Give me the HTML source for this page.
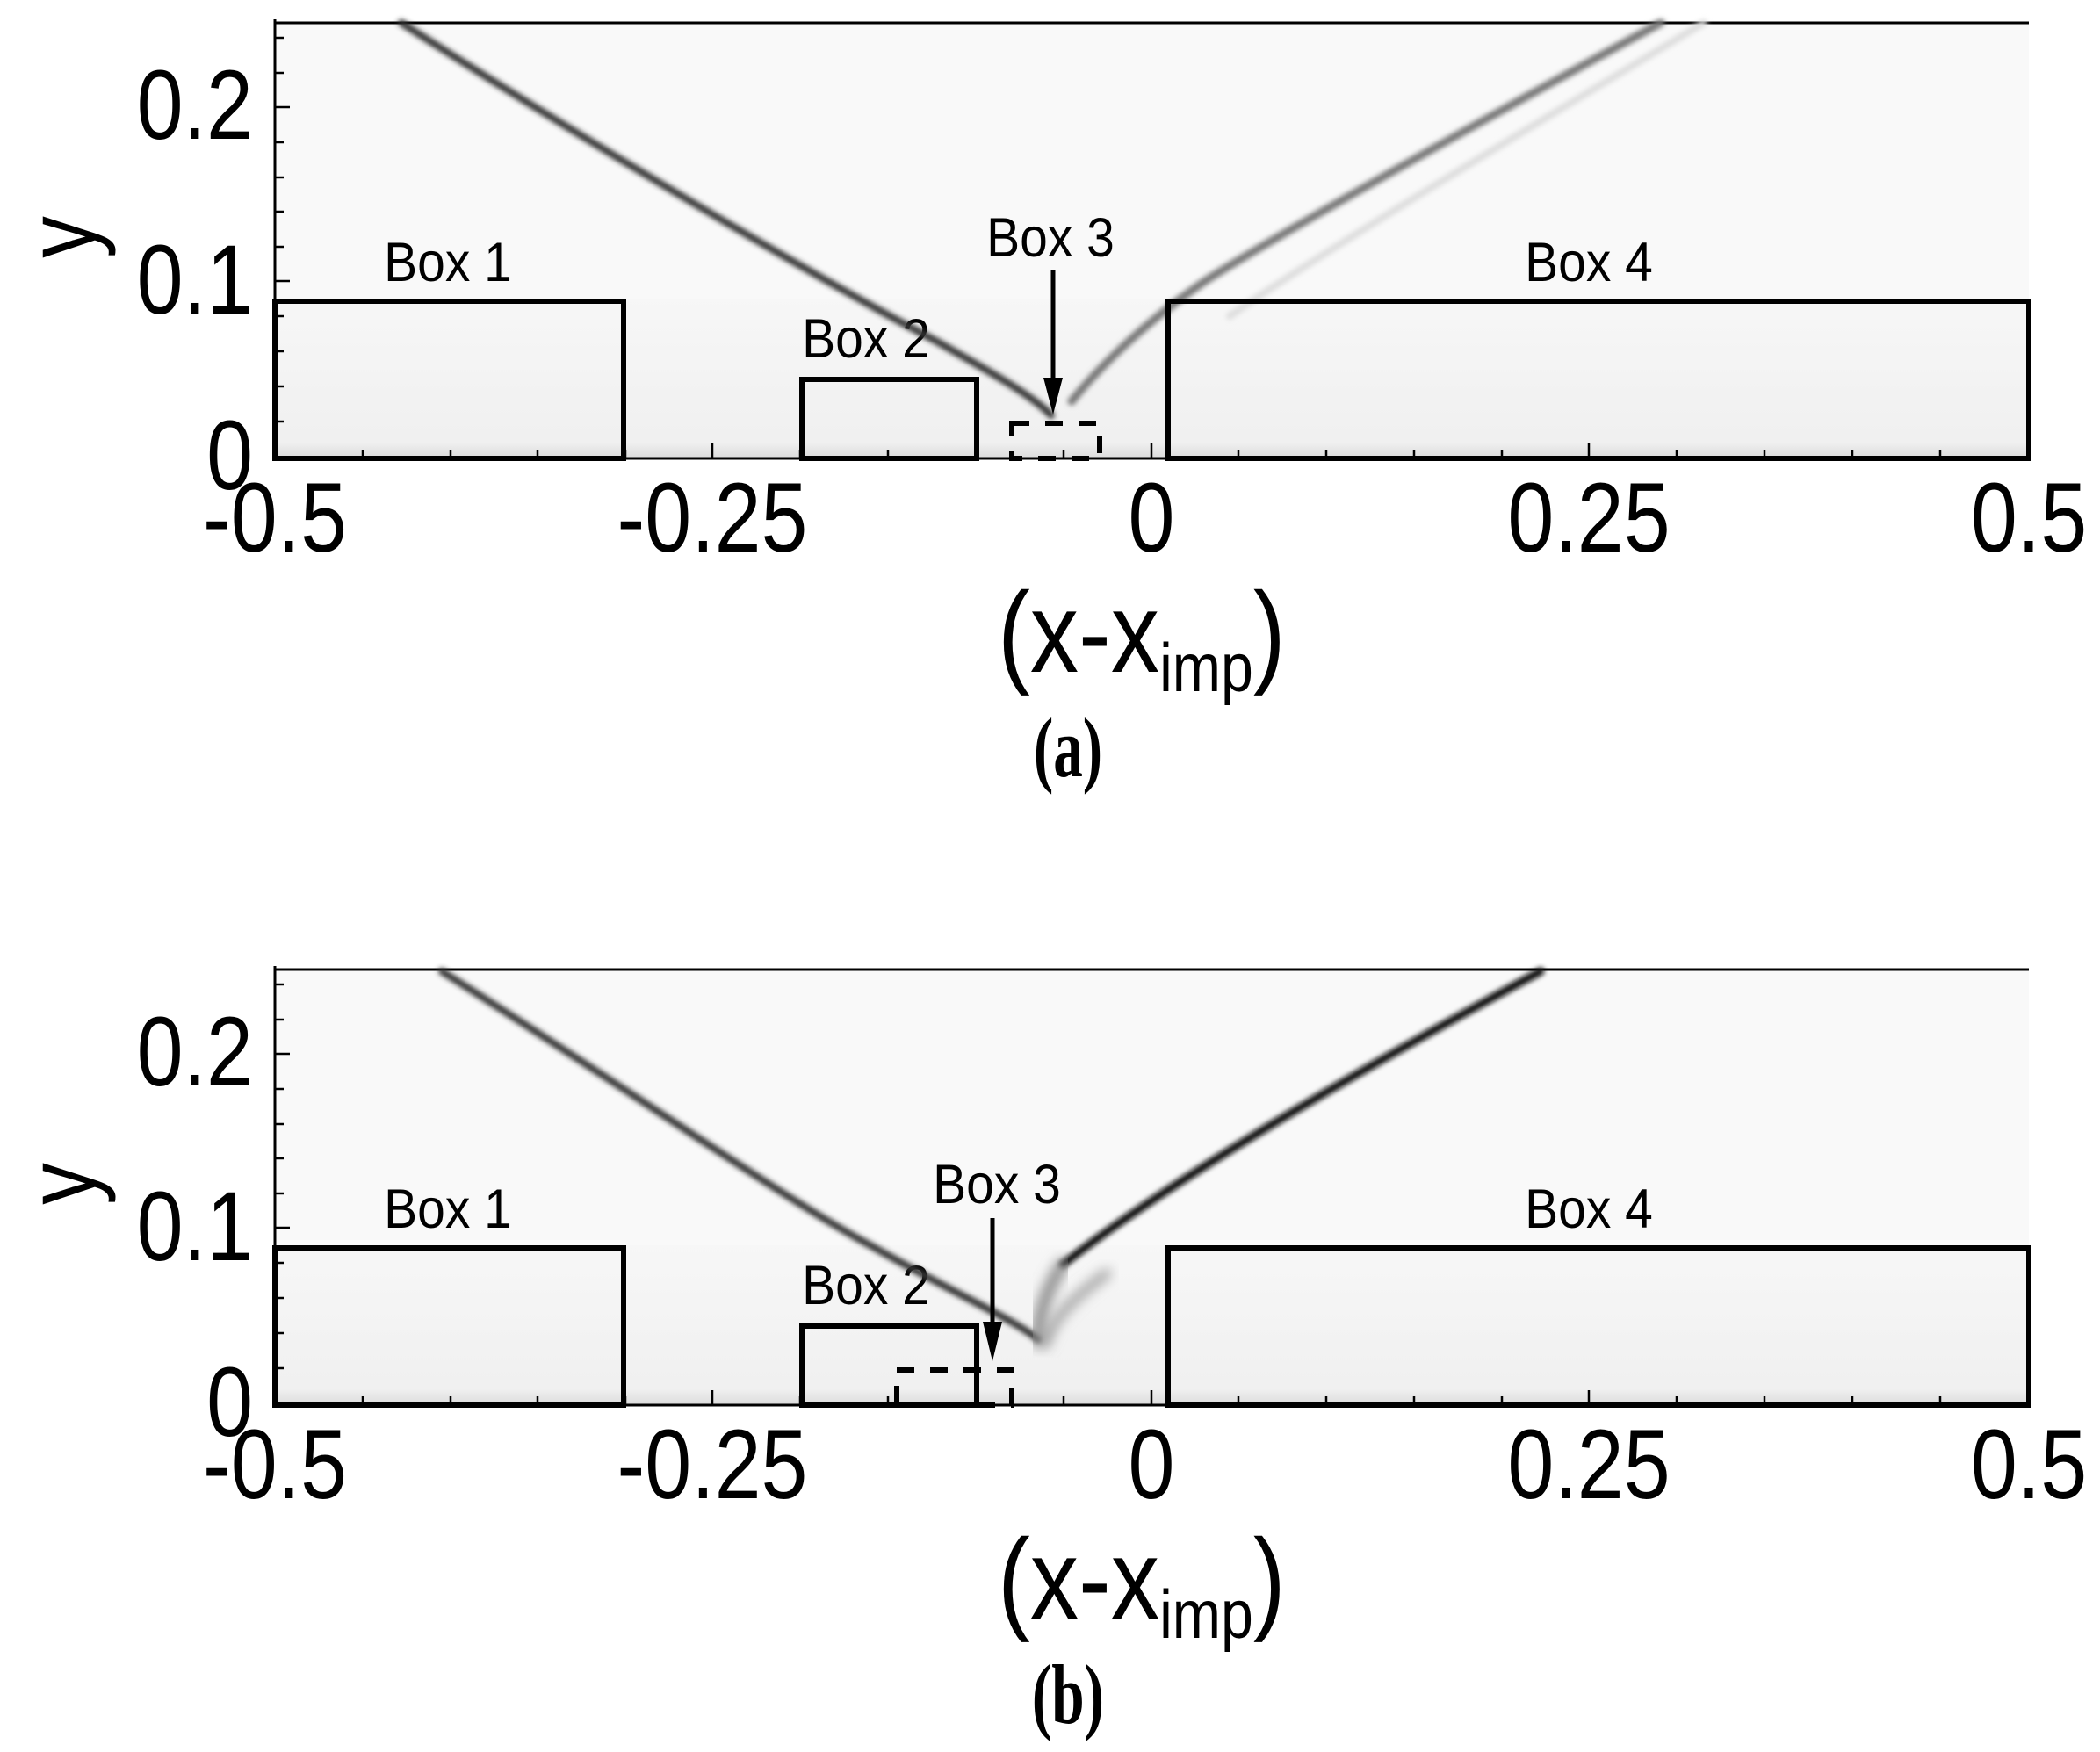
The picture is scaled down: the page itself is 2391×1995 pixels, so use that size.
<!DOCTYPE html>
<html><head><meta charset="utf-8"><style>
html,body{margin:0;padding:0;background:#fff;}
svg{display:block}
text{font-family:"Liberation Sans",sans-serif;fill:#000}
</style></head><body>
<svg width="2391" height="1995" viewBox="0 0 2391 1995" xmlns="http://www.w3.org/2000/svg">
<defs>
<filter id="b1" x="-20%" y="-20%" width="140%" height="140%"><feGaussianBlur stdDeviation="3"/></filter>
<filter id="b2" x="-20%" y="-20%" width="140%" height="140%"><feGaussianBlur stdDeviation="7"/></filter>
<linearGradient id="bg" x1="0" y1="0" x2="0" y2="1">
<stop offset="0" stop-color="#f6f6f6"/><stop offset="0.9" stop-color="#ececec"/><stop offset="1" stop-color="#cfcfcf"/></linearGradient>
<g id="frame">
<rect x="313" y="26" width="1997" height="496" fill="#f9f9f9"/>
<rect x="313" y="340" width="1997" height="182" fill="url(#bg)" opacity="0.7"/>
<line x1="313" y1="26" x2="2310" y2="26" stroke="#000" stroke-width="3"/>
<line x1="313" y1="522" x2="2310" y2="522" stroke="#000" stroke-width="3"/>
<line x1="313" y1="22" x2="313" y2="522" stroke="#000" stroke-width="3"/>
<g stroke="#000" stroke-width="2.5">
<line x1="313" y1="43" x2="323" y2="43"/><line x1="313" y1="83" x2="323" y2="83"/><line x1="313" y1="122" x2="330" y2="122"/><line x1="313" y1="162" x2="323" y2="162"/><line x1="313" y1="202" x2="323" y2="202"/><line x1="313" y1="241" x2="323" y2="241"/><line x1="313" y1="281" x2="323" y2="281"/><line x1="313" y1="320" x2="330" y2="320"/><line x1="313" y1="360" x2="323" y2="360"/><line x1="313" y1="400" x2="323" y2="400"/><line x1="313" y1="440" x2="323" y2="440"/><line x1="313" y1="480" x2="323" y2="480"/>
<line x1="413" y1="522" x2="413" y2="512"/><line x1="513" y1="522" x2="513" y2="512"/><line x1="612" y1="522" x2="612" y2="512"/><line x1="712" y1="522" x2="712" y2="512"/><line x1="811" y1="522" x2="811" y2="505"/><line x1="911" y1="522" x2="911" y2="512"/><line x1="1011" y1="522" x2="1011" y2="512"/><line x1="1111" y1="522" x2="1111" y2="512"/><line x1="1211" y1="522" x2="1211" y2="512"/><line x1="1311" y1="522" x2="1311" y2="505"/><line x1="1410" y1="522" x2="1410" y2="512"/><line x1="1510" y1="522" x2="1510" y2="512"/><line x1="1610" y1="522" x2="1610" y2="512"/><line x1="1710" y1="522" x2="1710" y2="512"/><line x1="1809" y1="522" x2="1809" y2="505"/><line x1="1909" y1="522" x2="1909" y2="512"/><line x1="2009" y1="522" x2="2009" y2="512"/><line x1="2109" y1="522" x2="2109" y2="512"/><line x1="2209" y1="522" x2="2209" y2="512"/>
</g>
<g font-size="112" text-anchor="end">
<text transform="translate(288,158) scale(0.85,1)">0.2</text><text transform="translate(288,357) scale(0.85,1)">0.1</text><text transform="translate(288,557) scale(0.85,1)">0</text>
</g>
<g font-size="112" text-anchor="middle">
<text transform="translate(313,628) scale(0.85,1)">-0.5</text><text transform="translate(811,628) scale(0.85,1)">-0.25</text><text transform="translate(1311,628) scale(0.85,1)">0</text><text transform="translate(1809,628) scale(0.85,1)">0.25</text><text transform="translate(2310,628) scale(0.85,1)">0.5</text>
</g>
<text font-size="112" transform="translate(108,270) rotate(-90) scale(0.85,1)" text-anchor="middle">y</text>
<text transform="translate(1136,765) scale(0.85,1)" font-size="130">(x-x<tspan font-size="78" dy="22">imp</tspan><tspan dy="-22">)</tspan></text>
<g font-size="60" text-anchor="middle">
<text transform="translate(510,320) scale(0.95,1.05)">Box 1</text><text transform="translate(986,407) scale(0.95,1.05)">Box 2</text><text transform="translate(1809,320) scale(0.95,1.05)">Box 4</text>
</g>
</g>
</defs>

<!-- panel a -->
<use href="#frame"/>
<g fill="none" stroke-linecap="round">
<path d="M457,26 C650,150 900,300 1067,389 C1130,425 1175,450 1197,473" stroke="#333" stroke-width="8" filter="url(#b1)"/>
<path d="M1891,26 C1700,130 1450,270 1372,320 C1300,370 1250,420 1220,457" stroke="#777" stroke-width="9" filter="url(#b1)"/>
<path d="M1940,26 C1750,140 1500,290 1400,360" stroke="#ddd" stroke-width="8" filter="url(#b1)"/>
</g>
<g fill="none" stroke="#000" stroke-width="6">
<rect x="313" y="343" width="397" height="179"/>
<rect x="913" y="432" width="199" height="90"/>
<rect x="1330" y="343" width="980" height="179"/>
<rect x="1152" y="482" width="100" height="40" stroke-dasharray="20,18"/>
</g>
<line x1="1199" y1="308" x2="1199" y2="440" stroke="#000" stroke-width="5"/>
<polygon points="1188,430 1210,430 1199,472" fill="#000"/>
<text transform="translate(1196,292) scale(0.95,1.05)" font-size="60" text-anchor="middle">Box 3</text>
<text transform="translate(1216,884) scale(0.7,1)" font-size="96" font-weight="bold" text-anchor="middle" style="font-family:'Liberation Serif',serif">(a)</text>

<!-- panel b -->
<g transform="translate(0,1078)"><use href="#frame"/></g>
<g fill="none" stroke-linecap="round">
<path d="M503,1106 C700,1230 900,1370 991,1418 C1090,1475 1150,1500 1182,1525" stroke="#333" stroke-width="8" filter="url(#b1)"/>
<path d="M1754,1106 C1600,1190 1350,1330 1210,1440" stroke="#111" stroke-width="9" filter="url(#b1)"/>
<path d="M1210,1440 C1190,1470 1182,1500 1182,1527" stroke="#888" stroke-width="14" filter="url(#b2)"/>
<path d="M1260,1450 C1220,1480 1200,1500 1190,1530" stroke="#999" stroke-width="10" filter="url(#b2)"/>
</g>
<g fill="none" stroke="#000" stroke-width="6">
<rect x="313" y="1421" width="397" height="179"/>
<rect x="913" y="1510" width="199" height="90"/>
<rect x="1330" y="1421" width="980" height="179"/>
<rect x="1021" y="1560" width="131" height="40" stroke-dasharray="20,18"/>
</g>
<line x1="1130" y1="1387" x2="1130" y2="1510" stroke="#000" stroke-width="5"/>
<polygon points="1119,1505 1141,1505 1130,1550" fill="#000"/>
<text transform="translate(1135,1370) scale(0.95,1.05)" font-size="60" text-anchor="middle">Box 3</text>
<text transform="translate(1216,1962) scale(0.7,1)" font-size="96" font-weight="bold" text-anchor="middle" style="font-family:'Liberation Serif',serif">(b)</text>
</svg>
</body></html>
